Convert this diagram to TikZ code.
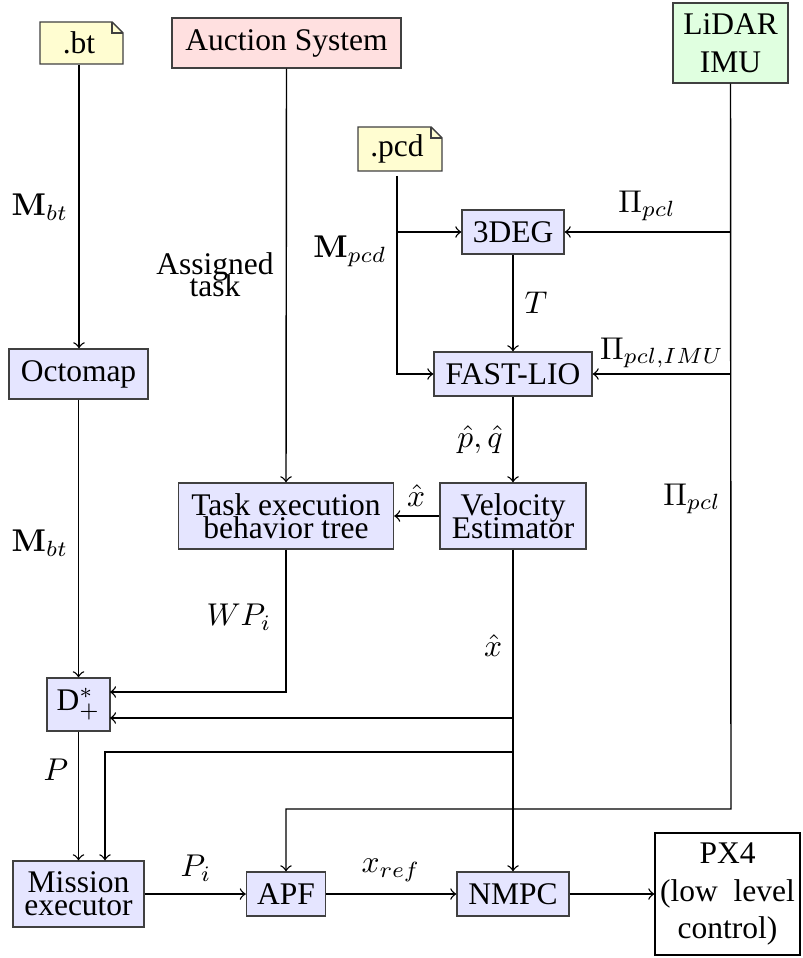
\documentclass[tikz,border=0pt]{standalone}
\usepackage[no-math]{fontspec}
\setmainfont{Liberation Serif}
\usetikzlibrary{calc,backgrounds}
\tikzset{
  wh/.style 2 args={minimum width=#1*0.3175pt,minimum height=#2*0.3175pt,inner sep=0pt},
  blk/.style={draw=black!75,fill=blue!10,align=center},
  notefill/.style={draw=black!75,fill=yellow!18},
  lbl/.style={inner sep=0pt},
  every path/.append style={line width=0.45pt}
}
\begin{document}
\begin{tikzpicture}[x=0.3175pt,y=-0.3175pt]
\useasboundingbox (0,0) rectangle (802,958);

% input nodes
\node[wh={78}{42}] (bt) at (79,43) {.bt};
\node[wh={78}{44}] (pcd) at (397,149) {.pcd};
\begin{pgfonlayer}{background}
  \filldraw[notefill] ($(bt.center)+(-39,-21)$) -- ($(bt.center)+(33,-21)$) -- ($(bt.center)+(44,-10)$) -- ($(bt.center)+(44,21)$) -- ($(bt.center)+(-39,21)$) -- cycle;
  \draw[draw=black!75] ($(bt.center)+(33,-21)$) -- ($(bt.center)+(33,-10)$) -- ($(bt.center)+(44,-10)$);
  \filldraw[notefill] ($(pcd.center)+(-39,-22)$) -- ($(pcd.center)+(34,-22)$) -- ($(pcd.center)+(45,-11)$) -- ($(pcd.center)+(45,22)$) -- ($(pcd.center)+(-39,22)$) -- cycle;
  \draw[draw=black!75] ($(pcd.center)+(34,-22)$) -- ($(pcd.center)+(34,-11)$) -- ($(pcd.center)+(45,-11)$);
\end{pgfonlayer}
\node[draw=black!75,fill=red!12,wh={229}{50}] (auction) at (286.5,43) {Auction System};
\node[draw=black!75,fill=green!12,wh={115}{80},align=center] (lidar) at (730.5,43) {LiDAR\\IMU};

% processing blocks
\node[blk,wh={102}{44}] (deg) at (513,232) {3DEG};
\node[blk,wh={158}{44}] (fastlio) at (513,374) {FAST-LIO};
\node[blk,wh={139}{50}] (octomap) at (78.5,374) {Octomap};
\node[blk,wh={215}{66}] (task) at (286,516) {Task execution\\[-4.7pt]behavior tree};
\node[blk,wh={146}{66}] (velo) at (513,516) {Velocity\\[-4.7pt]Estimator};
\node[blk,wh={63}{53}] (D) at (78.5,704.5) {D$^*_+$};
\node[blk,wh={131}{66}] (mission) at (78.5,894) {Mission\\[-4.7pt]executor};
\node[blk,wh={79}{44}] (apf) at (286,894) {APF};
\node[blk,wh={112}{44}] (nmpc) at (513,894) {NMPC};
\node[draw=black,wh={145}{122},align=center] (px4) at (727.5,894) {PX4\\(low\ \ level\\control)};

% junction coordinates
\coordinate (lk) at (731,809);
\coordinate (v1) at (513,718);
\coordinate (v2) at (513,752);
\coordinate (m1) at (105,752);
\coordinate (t1) at (286,692);
\coordinate (d1) at (110,692);
\coordinate (d2) at (110,718);

% connectors
\draw[->] (bt.south) -- (bt.south |- octomap.north);
\draw[->] (octomap.south) -- (D.north);
\draw[->] (auction.south) -- (task.north);
\draw[->] (lidar.south) -- (lk) -- (lk -| apf.north) -- (apf.north);
\draw[->] (deg.east -| lidar.south) -- (deg.east);
\draw[->] (fastlio.east -| lidar.south) -- (fastlio.east);
\draw[->,shorten <=1.3pt] (pcd.south) -- (pcd.south |- fastlio.west) -- (fastlio.west);
\draw[->] (pcd.south |- deg.west) -- (deg.west);
\draw[->] (deg.south) -- (fastlio.north);
\draw[->] (fastlio.south) -- (velo.north);
\draw[->] (velo.west) -- (task.east);
\draw[->] (velo.south) -- (nmpc.north);
\draw[->] (v1) -- (d2);
\draw[->] (v2) -- (m1) -- (m1 |- mission.north);
\draw[->] (task.south) -- (t1) -- (d1);
\draw[->] (D.south) -- (mission.north);
\draw[->] (mission.east) -- (apf.west);
\draw[->] (apf.east) -- (nmpc.west);
\draw[->] (nmpc.east) -- (px4.west);

% labels
\node[lbl] (lmbt1) at (40,207) {$\mathbf{M}_{bt}$};
\node[lbl] (lmbt2) at (40,543) {$\mathbf{M}_{bt}$};
\node[lbl] (lmpcd) at (350,251) {$\mathbf{M}_{pcd}$};
\node[lbl,align=center] (lassign) at (215,275) {Assigned\\[-5pt]task};
\node[lbl] (lpi1) at (647,206) {$\Pi_{pcl}$};
\node[lbl] (lT) at (536,303) {$T$};
\node[lbl] (lpi2) at (662,353) {$\Pi_{pcl,IMU}$};
\node[lbl] (lpq) at (480,440) {$\hat{p},\hat{q}$};
\node[lbl] (lx1) at (416,496) {$\hat{x}$};
\node[lbl] (lpi3) at (692,499) {$\Pi_{pcl}$};
\node[lbl] (lx2) at (493,646) {$\hat{x}$};
\node[lbl] (lwp) at (239,617) {$W P_i$};
\node[lbl] (lP) at (56,770) {$P$};
\node[lbl] (lPi) at (196,868) {$P_i$};
\node[lbl] (lxref) at (391,870) {$x_{ref}$};
\end{tikzpicture}
\end{document}
